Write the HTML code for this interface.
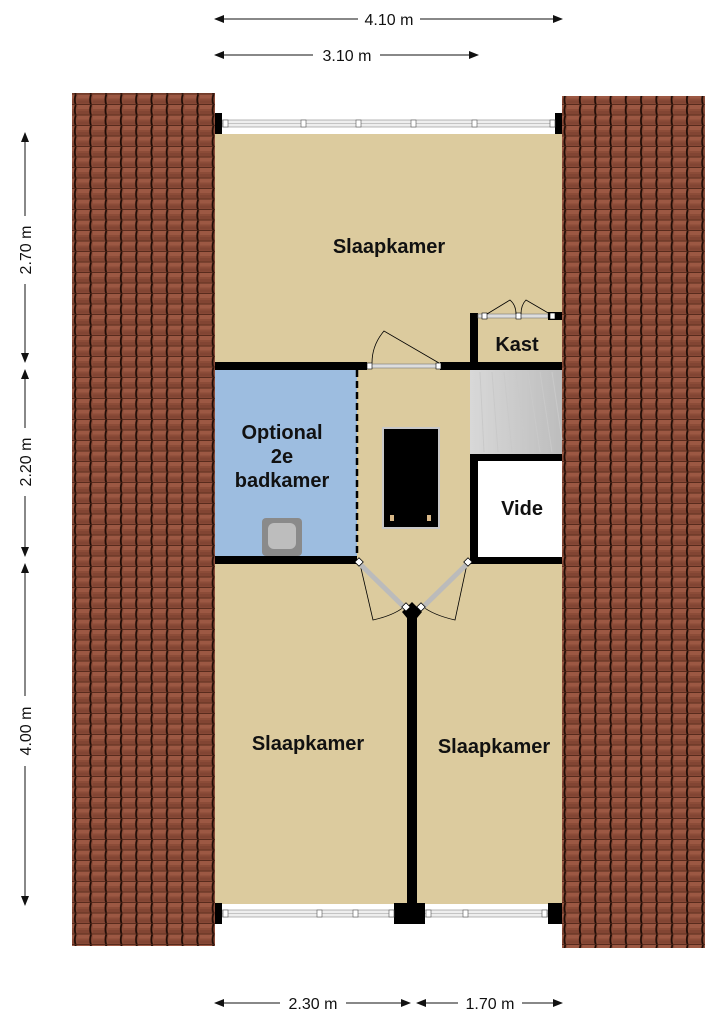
<!DOCTYPE html>
<html><head><meta charset="utf-8"><style>html,body{margin:0;padding:0;background:#fff}svg{display:block}</style></head>
<body>
<svg width="724" height="1024" viewBox="0 0 724 1024" xmlns="http://www.w3.org/2000/svg" font-family="Liberation Sans, sans-serif">
<defs>
<pattern id="tile" width="15.3" height="10.5" patternUnits="userSpaceOnUse">
<rect width="15.3" height="10.5" fill="#8c4c38"/>
<rect x="1" y="0" width="13" height="4" fill="#9c5843"/>
<rect x="1" y="6" width="13" height="3" fill="#824533"/>
<path d="M14.5 0 Q12.8 5 14.5 10.5" stroke="#1e0c06" stroke-width="1.8" fill="none"/>
<line x1="0" y1="10" x2="15.3" y2="10" stroke="#4a2215" stroke-width="0.8"/>
</pattern>
<marker id="ar" markerWidth="10" markerHeight="8" refX="9" refY="4" orient="auto-start-reverse" markerUnits="userSpaceOnUse"><path d="M0 0 L10 4 L0 8z" fill="#111"/></marker>
<linearGradient id="st" x1="0" x2="1"><stop offset="0" stop-color="#d8d8d8"/><stop offset="1" stop-color="#bdbdbd"/></linearGradient>
</defs>
<rect x="72" y="93" width="143" height="853" fill="url(#tile)"/>
<rect x="562" y="96" width="143" height="852" fill="url(#tile)"/>
<rect x="215" y="134" width="347" height="770" fill="#dccb9e"/>
<rect x="215" y="370" width="142" height="188" fill="#9dbde0"/>
<rect x="470" y="370" width="92" height="84" fill="url(#st)"/>
<g stroke="#c9c9c9" stroke-width="1">
<line x1="480" y1="372" x2="484" y2="452"/><line x1="492" y1="372" x2="498" y2="452"/><line x1="504" y1="372" x2="512" y2="452"/><line x1="516" y1="372" x2="526" y2="452"/><line x1="528" y1="372" x2="540" y2="452"/><line x1="540" y1="372" x2="552" y2="452"/><line x1="552" y1="372" x2="562" y2="440"/>
</g>
<rect x="470" y="454" width="92" height="110" fill="#000"/>
<rect x="478" y="461" width="84" height="96" fill="#fff"/>
<rect x="215" y="362" width="152" height="8" fill="#000"/>
<rect x="440" y="362" width="122" height="8" fill="#000"/>
<rect x="470" y="313" width="8" height="57" fill="#000"/>
<rect x="470" y="313" width="6" height="7" fill="#000"/>
<rect x="215" y="556" width="142" height="8" fill="#000"/>
<line x1="357" y1="370" x2="357" y2="556" stroke="#000" stroke-width="2.5" stroke-dasharray="7,4"/>
<rect x="407" y="612" width="10" height="294" fill="#000"/>
<rect x="371" y="364" width="68" height="4" fill="#ddd" stroke="#777" stroke-width="0.6"/>
<rect x="367" y="363" width="5" height="6" fill="#fff" stroke="#000" stroke-width="0.6"/>
<rect x="436" y="363" width="5" height="6" fill="#fff" stroke="#000" stroke-width="0.6"/>
<path d="M439 363 L384 331 Q372 345 372 363" stroke="#000" stroke-width="0.8" fill="none"/>
<rect x="478" y="314" width="70" height="4" fill="#ddd" stroke="#777" stroke-width="0.6"/>
<rect x="548" y="312" width="14" height="8" fill="#000"/>
<rect x="482" y="313" width="5" height="6" fill="#fff" stroke="#000" stroke-width="0.6"/>
<rect x="516" y="313" width="5" height="6" fill="#fff" stroke="#000" stroke-width="0.6"/>
<rect x="550" y="313" width="5" height="6" fill="#fff" stroke="#000" stroke-width="0.6"/>
<path d="M487 314 L510 300 Q516 305 516 314 M521 314 Q521 305 526 300 L550 314" stroke="#000" stroke-width="0.8" fill="none"/>
<g stroke="#000" stroke-width="0.8" fill="none">
<path d="M360 564 L373 620 Q395 615 405 606"/>
<path d="M467 564 L455 620 Q433 615 422 606"/>
</g>
<line x1="360" y1="564" x2="405" y2="608" stroke="#bbb" stroke-width="5"/>
<line x1="467" y1="564" x2="422" y2="608" stroke="#bbb" stroke-width="5"/>
<path d="M402 612 L412 602 L422 612 L417 618 L407 618z" fill="#000"/>
<rect x="356" y="559" width="6" height="6" fill="#fff" stroke="#000" stroke-width="0.8" transform="rotate(45 359 562)"/>
<rect x="465" y="559" width="6" height="6" fill="#fff" stroke="#000" stroke-width="0.8" transform="rotate(45 468 562)"/>
<rect x="403" y="604" width="6" height="6" fill="#fff" stroke="#000" stroke-width="0.8" transform="rotate(45 406 607)"/>
<rect x="418" y="604" width="6" height="6" fill="#fff" stroke="#000" stroke-width="0.8" transform="rotate(45 421 607)"/>
<rect x="383" y="428" width="56" height="100" fill="#000" stroke="#c8c8c8" stroke-width="2"/>
<rect x="390" y="515" width="4" height="6" fill="#d8b888"/><rect x="427" y="515" width="4" height="6" fill="#d8b888"/>
<rect x="262" y="518" width="40" height="38" rx="4" fill="#8a8a8a"/>
<rect x="268" y="523" width="28" height="26" rx="6" fill="#bdbdbd"/>
<rect x="222" y="120" width="333" height="7" fill="#eee" stroke="#888" stroke-width="0.6"/>
<line x1="222" y1="123.5" x2="555" y2="123.5" stroke="#999" stroke-width="0.6"/>
<rect x="215" y="113" width="7" height="21" fill="#000"/>
<rect x="555" y="113" width="7" height="21" fill="#000"/>
<g fill="#fff" stroke="#555" stroke-width="0.6"><rect x="223" y="120" width="5" height="7"/><rect x="301" y="120" width="5" height="7"/><rect x="356" y="120" width="5" height="7"/><rect x="411" y="120" width="5" height="7"/><rect x="472" y="120" width="5" height="7"/><rect x="550" y="120" width="5" height="7"/></g>
<rect x="222" y="910" width="326" height="7" fill="#eee" stroke="#888" stroke-width="0.6"/>
<line x1="222" y1="913.5" x2="548" y2="913.5" stroke="#999" stroke-width="0.6"/>
<rect x="215" y="903" width="7" height="21" fill="#000"/>
<rect x="394" y="903" width="31" height="21" fill="#000"/>
<rect x="548" y="903" width="14" height="21" fill="#000"/>
<g fill="#fff" stroke="#555" stroke-width="0.6"><rect x="223" y="910" width="5" height="7"/><rect x="317" y="910" width="5" height="7"/><rect x="353" y="910" width="5" height="7"/><rect x="389" y="910" width="5" height="7"/><rect x="426" y="910" width="5" height="7"/><rect x="463" y="910" width="5" height="7"/><rect x="542" y="910" width="5" height="7"/></g>
<g font-weight="bold" font-size="20" fill="#111" text-anchor="middle">
<text x="389" y="253">Slaapkamer</text>
<text x="517" y="351">Kast</text>
<text x="282" y="439">Optional</text>
<text x="282" y="463">2e</text>
<text x="282" y="487">badkamer</text>
<text x="522" y="515">Vide</text>
<text x="308" y="750">Slaapkamer</text>
<text x="494" y="753">Slaapkamer</text>
</g>
<g stroke="#111" stroke-width="1" fill="none">
<line x1="215" y1="19" x2="358" y2="19" marker-start="url(#ar)"/><line x1="420" y1="19" x2="562" y2="19" marker-end="url(#ar)"/>
<line x1="215" y1="55" x2="313" y2="55" marker-start="url(#ar)"/><line x1="380" y1="55" x2="478" y2="55" marker-end="url(#ar)"/>
<line x1="215" y1="1003" x2="280" y2="1003" marker-start="url(#ar)"/><line x1="346" y1="1003" x2="410" y2="1003" marker-end="url(#ar)"/>
<line x1="417" y1="1003" x2="458" y2="1003" marker-start="url(#ar)"/><line x1="522" y1="1003" x2="562" y2="1003" marker-end="url(#ar)"/>
<line x1="25" y1="133" x2="25" y2="216" marker-start="url(#ar)"/><line x1="25" y1="284" x2="25" y2="362" marker-end="url(#ar)"/>
<line x1="25" y1="370" x2="25" y2="428" marker-start="url(#ar)"/><line x1="25" y1="496" x2="25" y2="556" marker-end="url(#ar)"/>
<line x1="25" y1="564" x2="25" y2="696" marker-start="url(#ar)"/><line x1="25" y1="766" x2="25" y2="905" marker-end="url(#ar)"/>
</g>
<g font-size="16" fill="#111" text-anchor="middle">
<text x="389" y="25">4.10 m</text>
<text x="347" y="61">3.10 m</text>
<text x="313" y="1009">2.30 m</text>
<text x="490" y="1009">1.70 m</text>
<text transform="translate(31 250) rotate(-90)">2.70 m</text>
<text transform="translate(31 462) rotate(-90)">2.20 m</text>
<text transform="translate(31 731) rotate(-90)">4.00 m</text>
</g>
</svg>
</body></html>
